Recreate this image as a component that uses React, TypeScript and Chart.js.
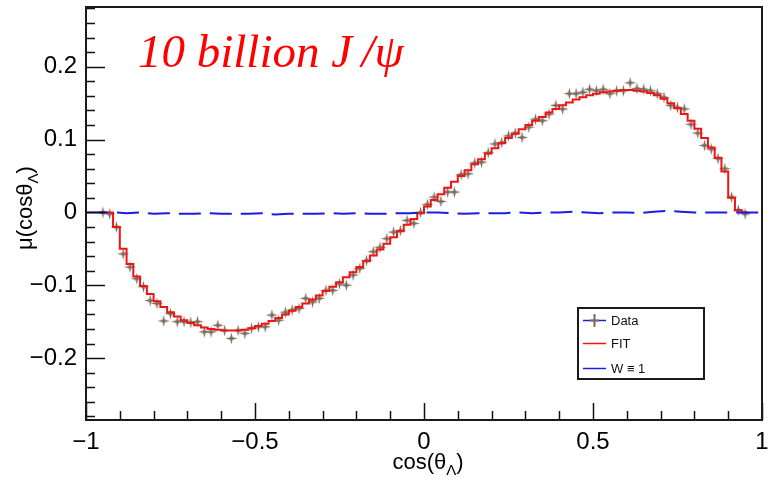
import React, { useEffect, useRef } from "react";
import { Chart, registerables } from "chart.js";

Chart.register(...registerables);

// Histogram binning: 96 bins of width 0.02 from -0.96 to 0.96
const binLow = -0.96;
const binWidth = 0.02;

// Data points (bin centres -0.95 ... 0.95)
const dataValues = [
  0.000, -0.002, -0.020, -0.057, -0.075, -0.091, -0.102, -0.121, -0.125, -0.149,
  -0.139, -0.150, -0.150, -0.151, -0.150, -0.164, -0.164, -0.155, -0.162, -0.173,
  -0.162, -0.166, -0.159, -0.157, -0.157, -0.141, -0.148, -0.137, -0.134, -0.132,
  -0.118, -0.123, -0.118, -0.107, -0.107, -0.098, -0.100, -0.086, -0.077, -0.066,
  -0.054, -0.048, -0.036, -0.027, -0.025, -0.011, -0.015, 0.000,
  0.011, 0.021, 0.015, 0.028, 0.028, 0.052, 0.053, 0.068, 0.069, 0.082,
  0.094, 0.096, 0.105, 0.109, 0.103, 0.117, 0.128, 0.126, 0.135, 0.147,
  0.142, 0.163, 0.163, 0.165, 0.169, 0.167, 0.169, 0.163, 0.167, 0.167,
  0.178, 0.170, 0.169, 0.167, 0.163, 0.158, 0.147, 0.144, 0.142, 0.121,
  0.109, 0.092, 0.087, 0.074, 0.060, 0.021, 0.003, -0.002,
];

// Fit histogram (same bins)
const fitValues = [
  0.000, 0.000, -0.020, -0.050, -0.071, -0.088, -0.101, -0.112, -0.122, -0.130,
  -0.137, -0.143, -0.148, -0.152, -0.155, -0.158, -0.160, -0.161, -0.162, -0.162,
  -0.162, -0.161, -0.159, -0.156, -0.153, -0.149, -0.145, -0.140, -0.135, -0.130,
  -0.125, -0.120, -0.114, -0.108, -0.102, -0.096, -0.089, -0.082, -0.075, -0.067,
  -0.059, -0.051, -0.043, -0.034, -0.026, -0.017, -0.009, -0.001,
  0.008, 0.017, 0.025, 0.034, 0.042, 0.050, 0.058, 0.066, 0.073, 0.081,
  0.088, 0.095, 0.102, 0.108, 0.114, 0.120, 0.126, 0.131, 0.137, 0.142,
  0.147, 0.151, 0.155, 0.158, 0.161, 0.163, 0.165, 0.166, 0.167, 0.168,
  0.168, 0.167, 0.166, 0.164, 0.161, 0.156, 0.150, 0.143, 0.135, 0.126,
  0.115, 0.102, 0.089, 0.075, 0.056, 0.020, 0.003, 0.000,
];

// W = 1 curve
const wX = [
  -1.0, -0.96, -0.92, -0.88, -0.84, -0.8, -0.76, -0.72, -0.68, -0.64, -0.6, -0.56, -0.52,
  -0.48, -0.44, -0.4, -0.36, -0.32, -0.28, -0.24, -0.2, -0.16, -0.12, -0.08, -0.04, 0.0,
  0.04, 0.08, 0.12, 0.16, 0.2, 0.24, 0.28, 0.32, 0.36, 0.4, 0.44, 0.48, 0.52, 0.56, 0.6,
  0.64, 0.68, 0.72, 0.76, 0.8, 0.84, 0.88, 0.92, 0.96, 1.0,
];
const wValues = [
  0.000, 0.000, 0.000, -0.001, 0.000, -0.002, -0.001, -0.002, -0.002, -0.001, -0.002, -0.002, -0.002,
  -0.001, -0.003, -0.002, -0.002, -0.002, -0.001, -0.002, -0.001, -0.002, -0.002, -0.001, -0.001, 0.000,
  0.000, -0.001, -0.002, -0.001, -0.001, -0.001, 0.000, -0.001, 0.000, 0.000, 0.001, 0.000, -0.001, 0.000, 0.000,
  -0.001, 0.001, 0.002, 0.001, 0.000, 0.000, 0.000, 0.000, 0.000, 0.000,
];

const xTickValues = [-1, -0.5, 0, 0.5, 1];
const yTickValues = [-0.2, -0.1, 0, 0.1, 0.2];
const xMin = -1, xMax = 1;
const yMin = -0.285, yMax = 0.282;

const legendLabels = ["Data", "FIT", "W \u2261 1"];
const annotationText = "10 billion J\u2009/\u03c8";

const BLUE = "#1c1ce0";
const RED = "#ee1515";
const MARKER = "#7a6a5c";
const SANS = "'Liberation Sans', Arial, sans-serif";

function fmt(v: number): string {
  if (Math.abs(v) < 1e-9) return "0";
  return v < 0 ? "\u2212" + String(Math.abs(v)) : String(v);
}

function makeStar(): HTMLCanvasElement {
  const c = document.createElement("canvas");
  c.width = 13;
  c.height = 13;
  const g = c.getContext("2d")!;
  const cx = 6.5, cy = 6.5, r = 6, ri = 1.6;
  g.fillStyle = MARKER;
  g.beginPath();
  for (let k = 0; k < 8; k++) {
    const ang = (k * Math.PI) / 4 - Math.PI / 2;
    const rr = k % 2 === 0 ? r : ri;
    const px = cx + rr * Math.cos(ang);
    const py = cy + rr * Math.sin(ang);
    if (k === 0) g.moveTo(px, py);
    else g.lineTo(px, py);
  }
  g.closePath();
  g.fill();
  return c;
}

const decor = {
  id: "decor",
  afterDraw(chart: any) {
    const ctx = chart.ctx as CanvasRenderingContext2D;
    const a = chart.chartArea;
    const xs = chart.scales.x;
    const ys = chart.scales.y;
    ctx.save();
    ctx.strokeStyle = "#111";
    ctx.lineWidth = 1.5;
    // y ticks (inside)
    for (let i = -14; i <= 14; i++) {
      const v = i * 0.02;
      if (v < yMin || v > yMax) continue;
      const major = i % 5 === 0;
      const py = Math.round(ys.getPixelForValue(v)) + 0.5;
      ctx.beginPath();
      ctx.moveTo(a.left, py);
      ctx.lineTo(a.left + (major ? 19 : 9), py);
      ctx.stroke();
    }
    // x ticks (inside)
    for (let i = -10; i <= 10; i++) {
      const v = i * 0.1;
      const major = i % 5 === 0;
      const px = Math.round(xs.getPixelForValue(v)) + 0.5;
      ctx.beginPath();
      ctx.moveTo(px, a.bottom);
      ctx.lineTo(px, a.bottom - (major ? 17 : 9));
      ctx.stroke();
    }
    // frame
    ctx.lineWidth = 2;
    ctx.strokeStyle = "#1a1a1a";
    ctx.strokeRect(a.left, a.top, a.right - a.left, a.bottom - a.top);

    // x title
    ctx.fillStyle = "#000";
    ctx.textBaseline = "alphabetic";
    ctx.font = `22px ${SANS}`;
    const t1 = "cos(\u03b8";
    const sub = "\u039b";
    const t2 = ")";
    const w1 = ctx.measureText(t1).width;
    ctx.font = `15px ${SANS}`;
    const ws = ctx.measureText(sub).width;
    ctx.font = `22px ${SANS}`;
    const w2 = ctx.measureText(t2).width;
    const x0 = 428 - (w1 + ws + w2) / 2;
    const by = 469;
    ctx.fillText(t1, x0, by);
    ctx.font = `15px ${SANS}`;
    ctx.fillText(sub, x0 + w1, by + 6);
    ctx.font = `22px ${SANS}`;
    ctx.fillText(t2, x0 + w1 + ws, by);

    // y title
    ctx.save();
    ctx.translate(32, 208);
    ctx.rotate(-Math.PI / 2);
    const u1 = "\u03bc(cos\u03b8";
    ctx.font = `22px ${SANS}`;
    const uw1 = ctx.measureText(u1).width;
    ctx.font = `15px ${SANS}`;
    const uws = ctx.measureText(sub).width;
    ctx.font = `22px ${SANS}`;
    const uw2 = ctx.measureText(")").width;
    const ux = -(uw1 + uws + uw2) / 2;
    ctx.fillText(u1, ux, 0);
    ctx.font = `15px ${SANS}`;
    ctx.fillText(sub, ux + uw1, 6);
    ctx.font = `22px ${SANS}`;
    ctx.fillText(")", ux + uw1 + uws, 0);
    ctx.restore();

    // annotation
    ctx.fillStyle = "#ff0000";
    ctx.font = `italic 47px 'Liberation Serif', 'Times New Roman', serif`;
    ctx.fillText(annotationText, 138, 67);

    // legend
    const lx = 578, ly = 308, lw = 126, lh = 71;
    ctx.fillStyle = "#fff";
    ctx.fillRect(lx, ly, lw, lh);
    ctx.lineWidth = 2;
    ctx.strokeStyle = "#1a1a1a";
    ctx.strokeRect(lx, ly, lw, lh);
    const rows = [320, 343, 368];
    const colors = [BLUE, RED, BLUE];
    ctx.font = `13px ${SANS}`;
    ctx.textBaseline = "middle";
    rows.forEach((ry, i) => {
      ctx.strokeStyle = colors[i];
      ctx.lineWidth = 1.5;
      ctx.beginPath();
      ctx.moveTo(583, ry + 0.5);
      ctx.lineTo(606, ry + 0.5);
      ctx.stroke();
      if (i === 0) {
        ctx.strokeStyle = MARKER;
        ctx.lineWidth = 2;
        ctx.beginPath();
        ctx.moveTo(594.5, ry - 6);
        ctx.lineTo(594.5, ry + 7);
        ctx.moveTo(590, ry + 0.5);
        ctx.lineTo(599, ry + 0.5);
        ctx.stroke();
      }
      ctx.fillStyle = "#111";
      ctx.fillText(legendLabels[i], 611, ry + 1);
    });
    ctx.restore();
  },
};

export default function App() {
  const ref = useRef<HTMLCanvasElement | null>(null);
  useEffect(() => {
    document.body.style.margin = "0";
    const canvas = ref.current;
    if (!canvas) return;

    const dataPts = dataValues.map((y, i) => ({ x: binLow + (i + 0.5) * binWidth, y }));
    const fitPts = fitValues.map((y, i) => ({ x: binLow + i * binWidth, y }));
    fitPts.push({ x: binLow + fitValues.length * binWidth, y: fitValues[fitValues.length - 1] });
    const wPts = wValues.map((y, i) => ({ x: wX[i], y }));
    const star = makeStar();

    const chart = new Chart(canvas, {
      type: "line",
      data: {
        datasets: [
          {
            label: "W \u2261 1",
            data: wPts,
            borderColor: BLUE,
            borderWidth: 2,
            borderDash: [22, 9],
            pointRadius: 0,
            fill: false,
            tension: 0,
            order: 0,
          },
          {
            label: "FIT",
            data: fitPts,
            borderColor: RED,
            borderWidth: 2,
            stepped: true,
            pointRadius: 0,
            fill: false,
            order: 1,
          },
          {
            label: "Data",
            data: dataPts,
            showLine: false,
            pointStyle: star as any,
            pointRadius: 6,
            order: 2,
          },
        ],
      },
      options: {
        responsive: false,
        animation: false,
        devicePixelRatio: 1,
        layout: { padding: { top: 6, right: 3, left: 0, bottom: 0 } },
        plugins: { legend: { display: false }, tooltip: { enabled: false } },
        scales: {
          x: {
            type: "linear",
            min: xMin,
            max: xMax,
            afterBuildTicks: (s: any) => {
              s.ticks = xTickValues.map((v) => ({ value: v }));
            },
            afterFit: (s: any) => {
              s.height = 70;
              s.paddingLeft = 0;
              s.paddingRight = 0;
            },
            ticks: {
              callback: (v: any) => fmt(Number(v)),
              font: { size: 24, family: SANS },
              color: "#000",
              padding: 8,
              maxRotation: 0,
              autoSkip: false,
            },
            grid: { display: false, drawTicks: false },
            border: { display: false },
          },
          y: {
            type: "linear",
            min: yMin,
            max: yMax,
            afterBuildTicks: (s: any) => {
              s.ticks = yTickValues.map((v) => ({ value: v }));
            },
            afterFit: (s: any) => {
              s.width = 86;
              s.paddingTop = 0;
              s.paddingBottom = 0;
            },
            ticks: {
              callback: (v: any) => fmt(Number(v)),
              font: { size: 24, family: SANS },
              color: "#000",
              padding: 9,
              autoSkip: false,
            },
            grid: { display: false, drawTicks: false },
            border: { display: false },
          },
        },
      },
      plugins: [decor],
    });
    return () => chart.destroy();
  }, []);

  return (
    <div style={{ width: 769, height: 490, background: "#fff" }}>
      <canvas ref={ref} width={769} height={490} style={{ display: "block" }} />
    </div>
  );
}
